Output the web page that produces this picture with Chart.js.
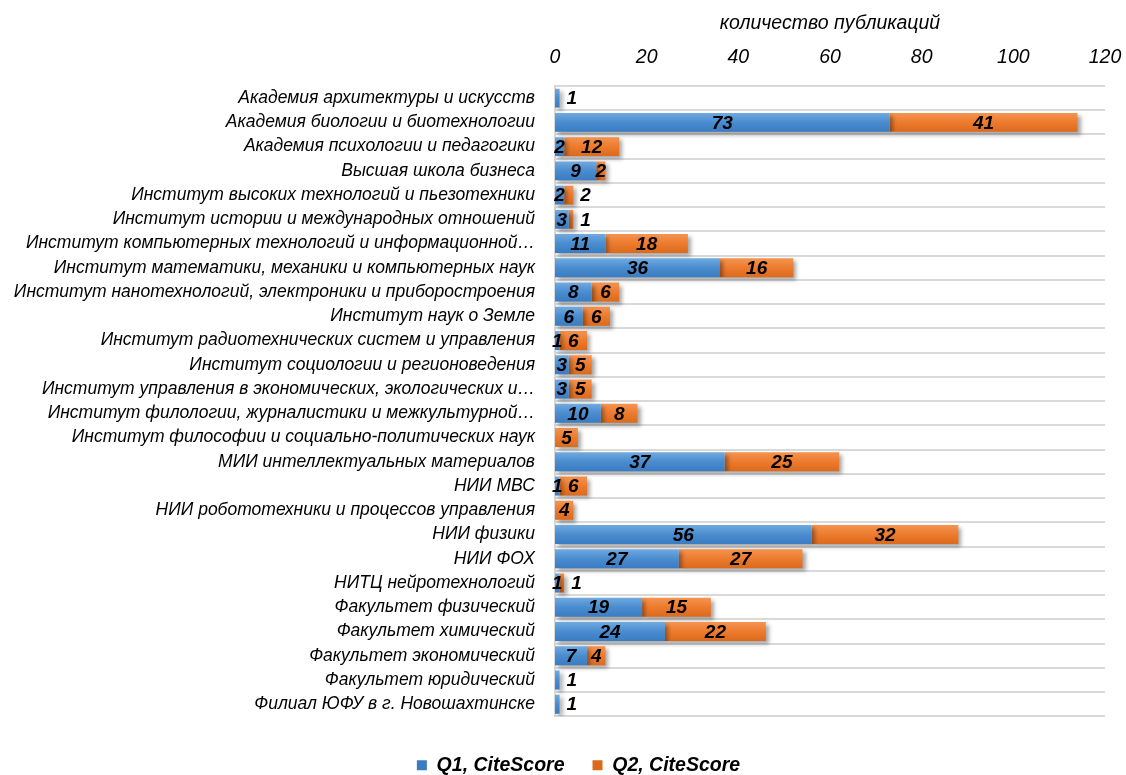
<!DOCTYPE html>
<html>
<head>
<meta charset="utf-8">
<script src="https://cdn.jsdelivr.net/npm/chart.js@4/dist/chart.umd.min.js"></script>
<style>
  html, body { margin: 0; padding: 0; background: #fff; }
  #wrap { width: 1126px; height: 775px; position: relative; }
</style>
</head>
<body>
<div id="wrap"><canvas id="chart"></canvas></div>
<script>
// ===== DATA =====
const categories = [
  'Академия архитектуры и искусств',
  'Академия биологии и биотехнологии',
  'Академия психологии и педагогики',
  'Высшая школа бизнеса',
  'Институт высоких технологий и пьезотехники',
  'Институт истории и международных отношений',
  'Институт компьютерных технологий и информационной…',
  'Институт математики, механики и компьютерных наук',
  'Институт нанотехнологий, электроники и приборостроения',
  'Институт наук о Земле',
  'Институт радиотехнических систем и управления',
  'Институт социологии и регионоведения',
  'Институт управления в экономических, экологических и…',
  'Институт филологии, журналистики и межкультурной…',
  'Институт философии и социально-политических наук',
  'МИИ интеллектуальных материалов',
  'НИИ МВС',
  'НИИ робототехники и процессов управления',
  'НИИ физики',
  'НИИ ФОХ',
  'НИТЦ нейротехнологий',
  'Факультет физический',
  'Факультет химический',
  'Факультет экономический',
  'Факультет юридический',
  'Филиал ЮФУ в г. Новошахтинске',
];
const q1Values = [1, 73, 2, 9, 2, 3, 11, 36, 8, 6, 1, 3, 3, 10, 0, 37, 1, 0, 56, 27, 1, 19, 24, 7, 1, 1];
const q2Values = [0, 41, 12, 2, 2, 1, 18, 16, 6, 6, 6, 5, 5, 8, 5, 25, 6, 4, 32, 27, 1, 15, 22, 4, 0, 0];
const seriesNames = ['Q1, CiteScore', 'Q2, CiteScore'];
const xTicks = [0, 20, 40, 60, 80, 100, 120];

// ===== STYLE =====
const COLORS = {
  q1: ['#70aae0', '#4a8ccf', '#3a7cc2'],
  q2: ['#f59450', '#ec7b2e', '#dc6a1c'],
  grid: '#d9d9d9',
  text: '#000',
};
const FONT = "'Liberation Sans', Arial, sans-serif";
const BAR_PCT = 0.78;

// vertical gradient per bar, like the Excel fill
function barFill(colors) {
  return (ctx) => {
    const chart = ctx.chart;
    const ys = chart.scales.y;
    if (!chart.chartArea || !ys || ctx.dataIndex === undefined) return colors[1];
    const y = ys.getPixelForValue(ctx.dataIndex);
    const h = (ys.height / categories.length) * BAR_PCT;
    const g = chart.ctx.createLinearGradient(0, y - h / 2, 0, y + h / 2);
    g.addColorStop(0, colors[0]);
    g.addColorStop(0.5, colors[1]);
    g.addColorStop(1, colors[2]);
    return g;
  };
}

// Excel-like drop shadow under the bars
const shadowPlugin = {
  id: 'barShadow',
  beforeDatasetsDraw(chart) {
    const c = chart.ctx;
    c.save();
    c.shadowColor = 'rgba(0,0,0,0.35)';
    c.shadowBlur = 4;
    c.shadowOffsetX = 3;
    c.shadowOffsetY = 3;
  },
  afterDatasetsDraw(chart) {
    chart.ctx.restore();
  },
};

// legend sits a bit right of the canvas centre in the original
const legendShift = {
  id: 'legendShift',
  afterLayout(chart) {
    if (!chart.legend) return;
    chart.legend.left += 26;
    chart.legend.right += 26;
  },
};

// Values written on the segments; tiny last segments get the label outside
const valueLabels = {
  id: 'valueLabels',
  afterDatasetsDraw(chart) {
    const c = chart.ctx;
    c.save();
    c.font = `italic bold 19px ${FONT}`;
    c.fillStyle = COLORS.text;
    c.textBaseline = 'middle';
    chart.data.datasets.forEach((ds, di) => {
      const meta = chart.getDatasetMeta(di);
      meta.data.forEach((bar, i) => {
        const v = ds.data[i];
        if (!v) return;
        const total = q1Values[i] + q2Values[i];
        const isLast = di === 1 || q2Values[i] === 0;
        const left = Math.min(bar.x, bar.base);
        const right = Math.max(bar.x, bar.base);
        if (isLast && total <= 4 && v <= 2) {
          c.textAlign = 'left';
          c.fillText(String(v), right + 7, bar.y + 1);
        } else {
          c.textAlign = 'center';
          c.fillText(String(v), (left + right) / 2, bar.y + 1);
        }
      });
    });
    c.restore();
  },
};

new Chart(document.getElementById('chart'), {
  type: 'bar',
  data: {
    labels: categories,
    datasets: [
      {
        label: seriesNames[0],
        data: q1Values,
        backgroundColor: barFill(COLORS.q1),
        barPercentage: BAR_PCT,
        categoryPercentage: 1,
      },
      {
        label: seriesNames[1],
        data: q2Values,
        backgroundColor: barFill(COLORS.q2),
        barPercentage: BAR_PCT,
        categoryPercentage: 1,
      },
    ],
  },
  options: {
    indexAxis: 'y',
    responsive: true,
    maintainAspectRatio: false,
    animation: false,
    layout: { padding: { left: 0, right: 21, top: 0, bottom: -10 } },
    scales: {
      x: {
        position: 'top',
        stacked: true,
        min: 0,
        max: 120,
        afterBuildTicks: (s) => { s.ticks = xTicks.map((v) => ({ value: v })); },
        grid: { display: false, drawTicks: false },
        border: { display: false },
        ticks: {
          color: COLORS.text,
          font: { family: FONT, size: 19.5, style: 'italic' },
          padding: 17,
        },
        title: {
          display: true,
          text: 'количество публикаций',
          color: COLORS.text,
          font: { family: FONT, size: 19.5, style: 'italic' },
          padding: { top: 12, bottom: 4 },
        },
        afterFit: (s) => {
          s.height = 86;
          s.paddingLeft = 0;
          s.paddingRight = 0;
        },
      },
      y: {
        stacked: true,
        grid: { color: COLORS.grid, lineWidth: 2, drawTicks: false },
        border: { color: COLORS.grid, width: 2 },
        ticks: {
          color: COLORS.text,
          font: { family: FONT, size: 17.5, style: 'italic' },
          padding: 20,
          autoSkip: false,
        },
        afterFit: (s) => { s.width = 555; },
      },
    },
    plugins: {
      legend: {
        position: 'bottom',
        title: { display: true, text: '', font: { size: 1 }, padding: { top: 10, bottom: 0 } },
        labels: {
          color: COLORS.text,
          font: { family: FONT, size: 19.5, style: 'italic', weight: 'bold' },
          boxWidth: 10,
          boxHeight: 10,
          padding: 28,
        },
      },
      tooltip: { enabled: false },
    },
  },
  plugins: [shadowPlugin, valueLabels, legendShift],
});
</script>
</body>
</html>
